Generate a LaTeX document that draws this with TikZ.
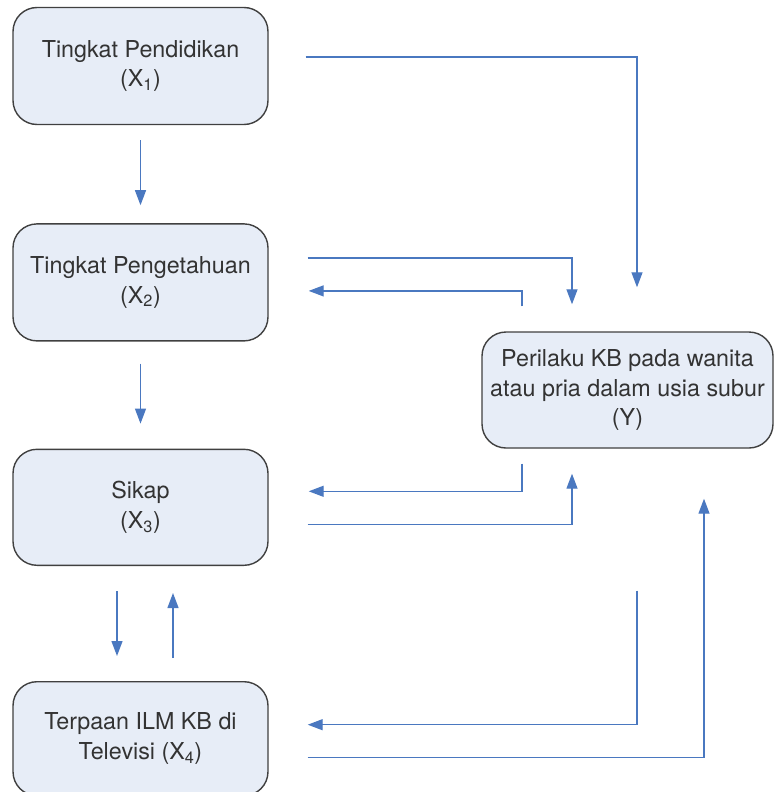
\documentclass[tikz,border=0pt]{standalone}
\usepackage{fontspec}
\setmainfont{TeX Gyre Heros}
\usetikzlibrary{arrows.meta, positioning, calc}
\definecolor{boxfill}{HTML}{E7EDF7}
\definecolor{boxline}{HTML}{404040}
\definecolor{flow}{HTML}{4A78C0}
\definecolor{txt}{HTML}{333333}

\begin{document}
\begin{tikzpicture}[x=1pt, y=-1pt,
    var/.style={rectangle, rounded corners=24pt, draw=boxline, line width=1.4pt, fill=boxfill, minimum width=255pt, minimum height=117pt, align=center, text=txt, font=\fontsize{23.3}{29.5}\selectfont},
    arrow/.style={-{Triangle[length=15pt, width=11pt]}, draw=flow, line width=1.3pt}
  ]
    \useasboundingbox (0,0) rectangle (775,792);

    % left column
    \node[var] (pendidikan) at (140.5,66) {Tingkat Pendidikan\\(X\textsubscript{1})};
    \node[var, below=98pt of pendidikan] (pengetahuan) {Tingkat Pengetahuan\\(X\textsubscript{2})};
    \node[var, below=107pt of pengetahuan, minimum height=116pt] (sikap) {Sikap\\(X\textsubscript{3})};
    \node[var, below=115pt of sikap, minimum height=114pt] (terpaan) {Terpaan ILM KB di\\Televisi (X\textsubscript{4})};

    % outcome
    \node[var, minimum width=291pt, minimum height=116pt] (perilaku) at (627.5,390) {Perilaku KB pada wanita\\atau pria dalam usia subur\\(Y)};

    \draw[arrow] ($(pendidikan.south)+(0,15)$) -- ($(pengetahuan.north)+(0,-18)$);
    \draw[arrow] ($(pengetahuan.south)+(0,22)$) -- ($(sikap.north)+(0,-25)$);
    \draw[arrow] ($(sikap.south)+(-23.5,25)$) -- ($(terpaan.north)+(-23.5,-25)$);
    \draw[arrow] ($(terpaan.north)+(32.5,-23)$) -- ($(sikap.south)+(32.5,27)$);

    \draw[arrow] ($(pendidikan.east)+(37,-9)$) -| ($(perilaku.north)+(9.5,-44)$);
    \draw[arrow] ($(pengetahuan.east)+(39,-24.5)$) -| ($(perilaku.north)+(-55.5,-27)$);
    \draw[arrow] ($(perilaku.north)+(-105.5,-25)$) |- ($(pengetahuan.east)+(40,8.5)$);
    \draw[arrow] ($(perilaku.south)+(-105.5,15)$) |- ($(sikap.east)+(40,-16)$);
    \draw[arrow] ($(sikap.east)+(39,17)$) -| ($(perilaku.south)+(-55.5,25)$);
    \draw[arrow] ($(perilaku.south)+(9.5,142)$) |- ($(terpaan.east)+(39,-14)$);
    \draw[arrow] ($(terpaan.east)+(39,19)$) -| ($(perilaku.south)+(76.5,50)$);
\end{tikzpicture}
\end{document}
